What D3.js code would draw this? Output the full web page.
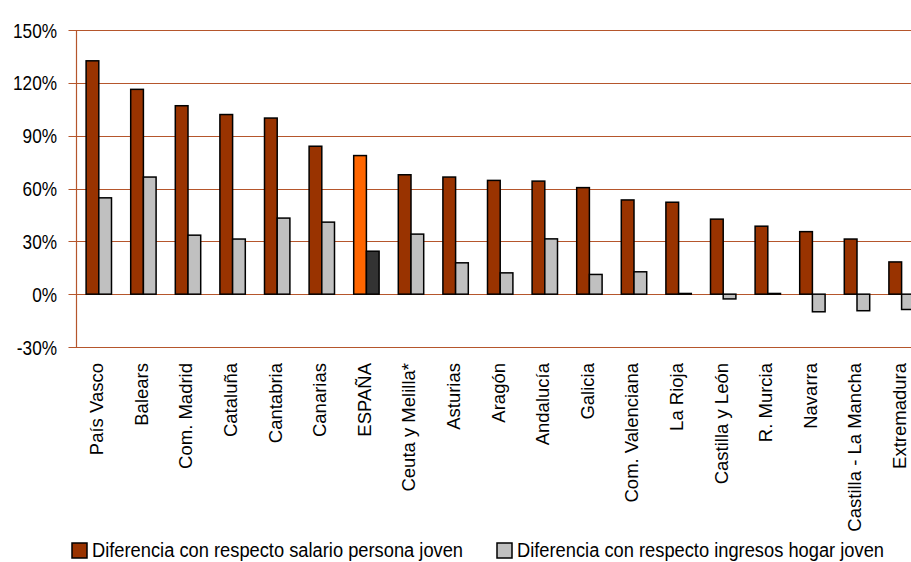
<!DOCTYPE html>
<html>
<head>
	<meta charset="utf-8">
	<title>Diferencias por comunidad</title>
	<script src="https://d3js.org/d3.v7.min.js"></script>
	<style>
		body { margin: 0; background: #fff; }
		text { fill: #000; }
	</style>
</head>
<body>
<section id="container"></section>
<script>

//Data, in percent
var categories = ["País Vasco", "Balears", "Com. Madrid", "Cataluña", "Cantabria", "Canarias", "ESPAÑA",
	"Ceuta y Melilla*", "Asturias", "Aragón", "Andalucía", "Galicia", "Com. Valenciana", "La Rioja",
	"Castilla y León", "R. Murcia", "Navarra", "Castilla - La Mancha", "Extremadura"];
var salarioJoven = [132.5, 116.3, 107, 102, 100, 84, 78.7, 67.8, 66.5, 64.6, 64.2, 60.5, 53.5, 52.2, 42.6, 38.6, 35.5, 31.3, 18.3];
var hogarJoven = [54.7, 66.5, 33.5, 31.3, 43.2, 40.9, 24.4, 34.1, 17.8, 12.1, 31.4, 11.2, 12.7, 0.4, -2.7, 0.4, -10, -9.4, -8.7];
var seriesNames = ["Diferencia con respecto salario persona joven", "Diferencia con respecto ingresos hogar joven"];
var yTicks = [-30, 0, 30, 60, 90, 120, 150];

var width = 911, height = 562;
var plotLeft = 76.5, plotTop = 30, plotBottom = 347;

var svg = d3.select("#container")
	.append("svg")
	.attr("width", width)
	.attr("height", height);

//Scales: the plot continues a bit past the right edge of the picture
var x0 = d3.scaleBand()
	.domain(categories)
	.range([plotLeft, plotLeft + categories.length * 44.6]);

var x1 = d3.scaleBand()
	.domain([0, 1])
	.range([0, x0.bandwidth()])
	.paddingOuter(0.756);

var y = d3.scaleLinear()
	.domain([-30, 150])
	.range([plotBottom, plotTop]);

//Gridlines
svg.append("g")
	.selectAll("line")
	.data(yTicks)
	.enter()
	.append("line")
	.attr("x1", plotLeft - 8)
	.attr("x2", width + 20)
	.attr("y1", function(d) { return Math.round(y(d)) + 0.5; })
	.attr("y2", function(d) { return Math.round(y(d)) + 0.5; })
	.attr("stroke", "#b5562c")
	.attr("stroke-width", 1.2);

//Y axis line
svg.append("line")
	.attr("x1", plotLeft)
	.attr("x2", plotLeft)
	.attr("y1", y(150))
	.attr("y2", y(-30))
	.attr("stroke", "#b5562c")
	.attr("stroke-width", 1.2);

//Y tick labels (narrow look: squeezed horizontally)
svg.append("g")
	.selectAll("text")
	.data(yTicks)
	.enter()
	.append("text")
	.attr("transform", function(d) { return "translate(57," + y(d) + ") scale(0.82,1)"; })
	.attr("dy", "0.36em")
	.attr("text-anchor", "end")
	.style("font-family", "'Liberation Sans', Arial, sans-serif")
	.style("font-size", "21px")
	.text(function(d) { return d + "%"; });

//Bars
var fills = ["#993300", "#c0c0c0"];
var spainFills = ["#ff6600", "#333333"];

var groups = svg.append("g")
	.selectAll("g")
	.data(categories)
	.enter()
	.append("g")
	.attr("transform", function(d) { return "translate(" + x0(d) + ",0)"; });

groups.selectAll("rect")
	.data(function(d, i) {
		return [
			{cat: d, s: 0, v: salarioJoven[i]},
			{cat: d, s: 1, v: hogarJoven[i]}
		];
	})
	.enter()
	.append("rect")
	.attr("x", function(d) { return x1(d.s); })
	.attr("width", x1.bandwidth())
	.attr("y", function(d) { return y(Math.max(0, d.v)); })
	.attr("height", function(d) { return Math.abs(y(d.v) - y(0)); })
	.attr("fill", function(d) { return d.cat === "ESPAÑA" ? spainFills[d.s] : fills[d.s]; })
	.attr("stroke", "#000")
	.attr("stroke-width", 1.5);

//Category labels, rotated
svg.append("g")
	.selectAll("text")
	.data(categories)
	.enter()
	.append("text")
	.attr("transform", function(d) {
		return "translate(" + (x0(d) + x0.bandwidth() / 2 - 2) + "," + (plotBottom + 16) + ") rotate(-90)";
	})
	.attr("dy", "0.35em")
	.attr("text-anchor", "end")
	.style("font-family", "'Liberation Sans', Arial, sans-serif")
	.style("font-size", "18.5px")
	.text(function(d) { return d; });

//Legend
var legendX = [72, 497];
var legend = svg.append("g")
	.selectAll("g")
	.data(seriesNames)
	.enter()
	.append("g")
	.attr("transform", function(d, i) { return "translate(" + legendX[i] + ",543)"; });

legend.append("rect")
	.attr("width", 15)
	.attr("height", 15)
	.attr("fill", function(d, i) { return fills[i]; })
	.attr("stroke", "#000")
	.attr("stroke-width", 1.5);

legend.append("text")
	.attr("transform", "translate(20,14) scale(0.915,1)")
	.style("font-family", "'Liberation Sans', Arial, sans-serif")
	.style("font-size", "20px")
	.text(function(d) { return d; });

</script>
</body>
</html>
